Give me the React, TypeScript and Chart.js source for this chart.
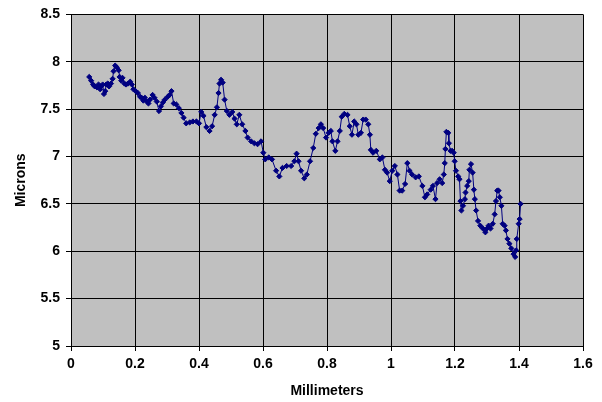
import { useEffect, useRef } from 'react';
import { Chart, registerables } from 'chart.js';

Chart.register(...registerables);

const xTickLabels = ['0', '0.2', '0.4', '0.6', '0.8', '1', '1.2', '1.4', '1.6'];
const yTickLabels = ['5', '5.5', '6', '6.5', '7', '7.5', '8', '8.5'];

const millimeters = [
  0.057, 0.063, 0.069, 0.074, 0.081, 0.086, 0.091, 0.094, 0.099, 0.103,
  0.107, 0.110, 0.115, 0.119, 0.125, 0.130, 0.133, 0.138, 0.143, 0.149,
  0.152, 0.157, 0.161, 0.167, 0.172, 0.178, 0.185, 0.190, 0.195, 0.202,
  0.209, 0.216, 0.221, 0.226, 0.231, 0.237, 0.242, 0.247, 0.255, 0.261,
  0.268, 0.275, 0.281, 0.287, 0.293, 0.302, 0.308, 0.314, 0.321, 0.329,
  0.337, 0.345, 0.352, 0.360, 0.371, 0.381, 0.392, 0.400, 0.407, 0.414,
  0.423, 0.433, 0.441, 0.449, 0.456, 0.461, 0.464, 0.469, 0.474, 0.480,
  0.487, 0.495, 0.504, 0.511, 0.518, 0.526, 0.535, 0.545, 0.552, 0.563,
  0.573, 0.583, 0.594, 0.601, 0.607, 0.618, 0.628, 0.641, 0.651, 0.661,
  0.674, 0.688, 0.698, 0.705, 0.711, 0.719, 0.729, 0.737, 0.747, 0.757,
  0.765, 0.774, 0.781, 0.788, 0.797, 0.805, 0.812, 0.817, 0.826, 0.833,
  0.840, 0.846, 0.854, 0.864, 0.871, 0.878, 0.885, 0.892, 0.898, 0.906,
  0.913, 0.921, 0.929, 0.934, 0.937, 0.944, 0.954, 0.965, 0.973, 0.981,
  0.988, 0.996, 1.004, 1.012, 1.020, 1.027, 1.035, 1.044, 1.051, 1.058,
  1.066, 1.077, 1.087, 1.098, 1.106, 1.113, 1.124, 1.131, 1.139, 1.144,
  1.152, 1.160, 1.165, 1.168, 1.170, 1.173, 1.179, 1.181, 1.186, 1.191,
  1.196, 1.199, 1.203, 1.210, 1.214, 1.217, 1.220, 1.225, 1.231, 1.233,
  1.238, 1.243, 1.245, 1.250, 1.255, 1.259, 1.262, 1.266, 1.272, 1.279,
  1.287, 1.295, 1.300, 1.305, 1.311, 1.318, 1.324, 1.328, 1.332, 1.336,
  1.340, 1.345, 1.349, 1.355, 1.359, 1.364, 1.370, 1.376, 1.383, 1.388,
  1.391, 1.393, 1.399, 1.402, 1.405,
];

const microns = [
  7.84, 7.80, 7.76, 7.74, 7.73, 7.76, 7.71, 7.74, 7.76, 7.66,
  7.69, 7.76, 7.77, 7.74, 7.77, 7.82, 7.90, 7.96, 7.94, 7.91,
  7.84, 7.80, 7.83, 7.77, 7.76, 7.77, 7.79, 7.76, 7.71, 7.69,
  7.67, 7.63, 7.62, 7.59, 7.62, 7.58, 7.56, 7.60, 7.65, 7.62,
  7.58, 7.48, 7.53, 7.57, 7.60, 7.63, 7.65, 7.69, 7.56, 7.55,
  7.51, 7.46, 7.41, 7.35, 7.36, 7.37, 7.37, 7.35, 7.47, 7.43,
  7.31, 7.27, 7.32, 7.44, 7.52, 7.67, 7.77, 7.81, 7.78, 7.60,
  7.48, 7.44, 7.47, 7.40, 7.34, 7.44, 7.34, 7.27, 7.20, 7.16,
  7.14, 7.13, 7.16, 7.04, 6.97, 6.99, 6.97, 6.85, 6.79, 6.88,
  6.90, 6.90, 6.95, 7.03, 6.95, 6.85, 6.77, 6.81, 6.95, 7.09,
  7.24, 7.30, 7.34, 7.30, 7.20, 7.25, 7.27, 7.16, 7.06, 7.16,
  7.27, 7.42, 7.45, 7.44, 7.32, 7.23, 7.37, 7.34, 7.23, 7.25,
  7.39, 7.39, 7.34, 7.23, 7.07, 7.04, 7.06, 6.97, 6.99, 6.86,
  6.83, 6.74, 6.85, 6.90, 6.81, 6.64, 6.64, 6.71, 6.93, 6.85,
  6.81, 6.78, 6.79, 6.69, 6.57, 6.60, 6.65, 6.69, 6.55, 6.72,
  6.76, 6.72, 6.81, 6.93, 7.08, 7.26, 7.25, 7.14, 7.06, 7.06,
  7.04, 6.95, 6.85, 6.79, 6.76, 6.53, 6.43, 6.48, 6.55, 6.62,
  6.69, 6.74, 6.86, 6.92, 6.83, 6.65, 6.55, 6.43, 6.32, 6.27,
  6.24, 6.20, 6.24, 6.27, 6.24, 6.29, 6.39, 6.53, 6.64, 6.64,
  6.57, 6.48, 6.29, 6.27, 6.22, 6.13, 6.08, 6.03, 5.97, 5.94,
  6.01, 6.13, 6.29, 6.34, 6.50,
];

const FONT = 'Arial, "Liberation Sans", Helvetica, sans-serif';

const plotBackground = {
  id: 'plotBackground',
  beforeDraw(chart: any) {
    const { ctx, chartArea: a } = chart;
    ctx.save();
    ctx.fillStyle = '#C0C0C0';
    ctx.fillRect(a.left, a.top, a.right - a.left, a.bottom - a.top);
    ctx.restore();
  },
};

export default function App() {
  const ref = useRef<HTMLCanvasElement | null>(null);

  useEffect(() => {
    if (!ref.current) return;
    const points = millimeters.map((x, i) => ({ x, y: microns[i] }));
    const tickFont = { family: FONT, size: 14, weight: 'bold' as const };
    const chart = new Chart(ref.current, {
      type: 'line',
      data: {
        datasets: [
          {
            data: points,
            borderColor: '#000080',
            borderWidth: 1,
            backgroundColor: '#000080',
            pointStyle: 'rectRot',
            pointRadius: 2.6,
            pointBorderWidth: 1,
            pointBackgroundColor: '#000080',
            pointBorderColor: '#000080',
            tension: 0,
            fill: false,
          },
        ],
      },
      options: {
        animation: false,
        responsive: false,
        devicePixelRatio: 1,
        layout: { padding: { top: 12, right: 19, bottom: 0, left: 0 } },
        plugins: {
          legend: { display: false },
          tooltip: { enabled: false },
        },
        scales: {
          x: {
            type: 'linear',
            min: 0,
            max: 1.6,
            ticks: {
              stepSize: 0.2,
              autoSkip: false,
              maxRotation: 0,
              color: '#000',
              font: tickFont,
              padding: 5,
              callback: (_v: any, i: number) => xTickLabels[i],
            },
            grid: { color: '#000', lineWidth: 1, tickLength: 5, drawTicks: true },
            border: { color: '#000', width: 1 },
            title: {
              display: true,
              text: 'Millimeters',
              color: '#000',
              font: tickFont,
              padding: { top: 0, bottom: 2 },
            },
            afterFit: (s: any) => {
              s.height = 56;
            },
          },
          y: {
            type: 'linear',
            min: 5,
            max: 8.5,
            ticks: {
              stepSize: 0.5,
              autoSkip: false,
              color: '#000',
              font: tickFont,
              padding: 6,
              callback: (_v: any, i: number) => yTickLabels[i],
            },
            grid: { color: '#000', lineWidth: 1, tickLength: 5, drawTicks: true },
            border: { color: '#000', width: 1 },
            title: {
              display: true,
              text: 'Microns',
              color: '#000',
              font: tickFont,
              padding: { top: 13, bottom: 0 },
            },
            afterFit: (s: any) => {
              s.width = 71;
            },
          },
        },
      },
      plugins: [plotBackground],
    });
    return () => chart.destroy();
  }, []);

  return (
    <div style={{ position: 'absolute', left: 0, top: 0, width: 602, height: 402, background: '#fff' }}>
      <canvas ref={ref} width={602} height={402} style={{ display: 'block' }} />
    </div>
  );
}
